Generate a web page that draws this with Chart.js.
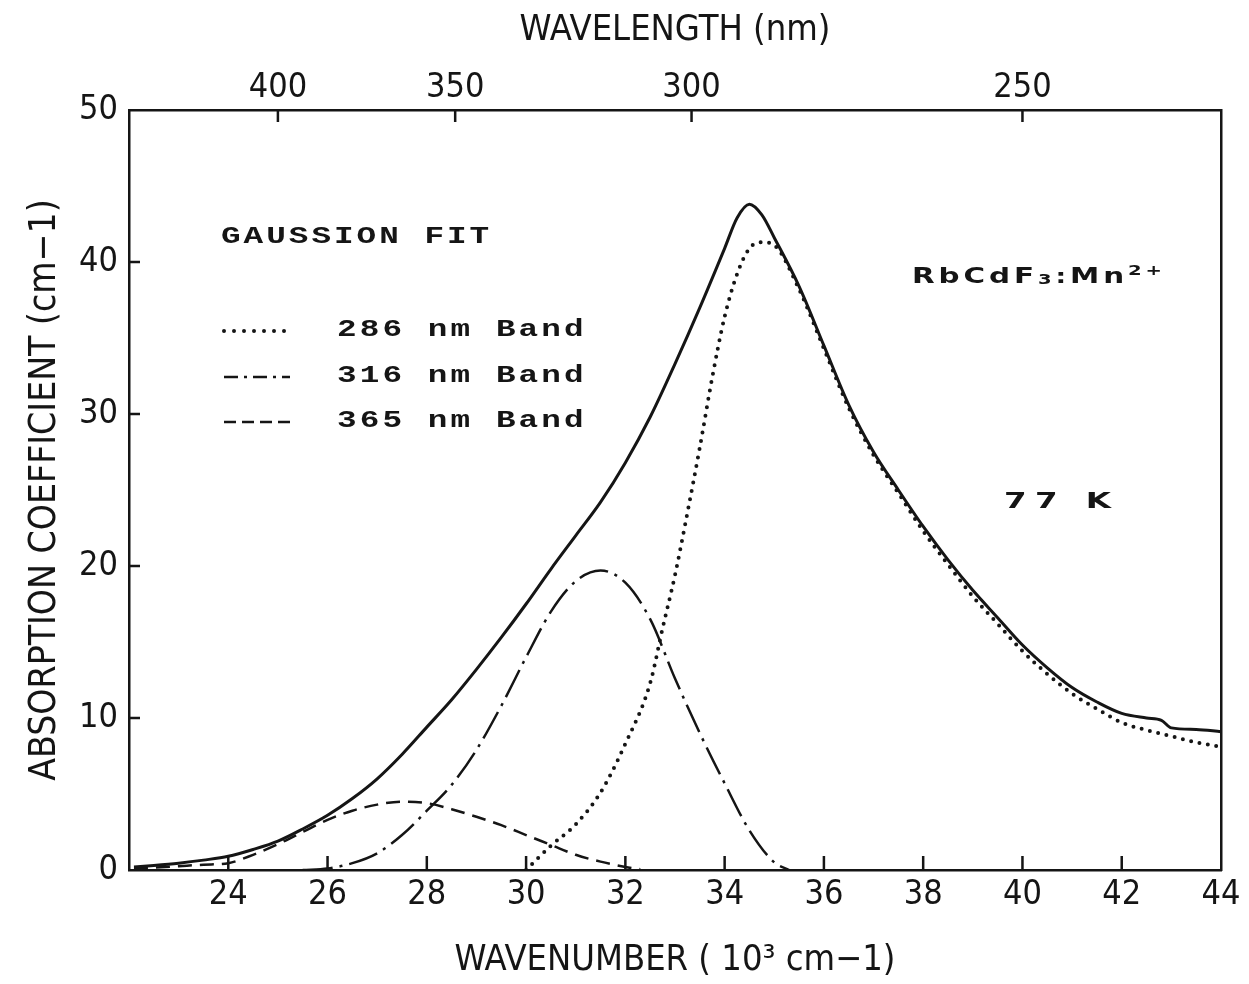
<!DOCTYPE html>
<html>
<head>
<meta charset="utf-8">
<title>RbCdF3:Mn2+ absorption, 77 K</title>
<script src="https://cdn.jsdelivr.net/npm/chart.js@4.4.1/dist/chart.umd.min.js"></script>
<style>
  html, body { margin: 0; padding: 0; background: #fff; }
  canvas { display: block; }
</style>
</head>
<body>
<canvas id="absChart" width="1249" height="984"></canvas>
<script>
// measured absorption (solid line)
const wavenumberTotal = [22.1, 22.5, 23, 23.5, 24, 24.5, 25, 25.5, 26, 26.5, 27, 27.5, 28, 28.5, 29, 29.5, 30, 30.5, 31, 31.5, 32, 32.5, 33, 33.5, 34, 34.25, 34.5, 34.75, 35, 35.5, 36, 36.5, 37, 37.5, 38, 38.5, 39, 39.5, 40, 40.5, 41, 41.5, 42, 42.5, 42.8, 43.0, 43.5, 44];
const absTotal = [0.2, 0.3, 0.45, 0.65, 0.9, 1.35, 1.9, 2.7, 3.6, 4.7, 6.0, 7.6, 9.4, 11.2, 13.2, 15.3, 17.5, 19.8, 22.0, 24.2, 26.8, 29.8, 33.3, 37.0, 40.9, 42.9, 43.8, 43.1, 41.6, 38.4, 34.5, 30.6, 27.5, 25.0, 22.6, 20.4, 18.4, 16.6, 14.8, 13.3, 12.0, 11.05, 10.3, 10.0, 9.85, 9.35, 9.25, 9.1];

// gaussian fit bands
const bandLabels = ['286 nm Band', '316 nm Band', '365 nm Band'];

const wavenumber286 = [30.0, 30.5, 31, 31.5, 32, 32.5, 32.75, 33, 33.25, 33.5, 33.75, 34, 34.25, 34.5, 34.75, 35, 35.5, 36, 36.5, 37, 37.5, 38, 38.5, 39, 39.5, 40, 40.5, 41, 41.5, 42, 42.5, 43, 43.5, 44];
const abs286 = [0, 1.6, 3.0, 5.1, 8.3, 12.3, 15.9, 19.4, 23.5, 27.8, 32.4, 36.4, 39.2, 40.9, 41.3, 41.1, 38.2, 34.3, 30.4, 27.3, 24.8, 22.3, 20.1, 18.0, 16.2, 14.4, 12.9, 11.6, 10.6, 9.7, 9.2, 8.8, 8.4, 8.1];

const wavenumber316 = [25.5, 26, 26.5, 27, 27.5, 28, 28.5, 29, 29.5, 30, 30.5, 31, 31.5, 32, 32.5, 33, 33.5, 34, 34.5, 35, 35.3];
const abs316 = [0, 0.1, 0.45, 1.1, 2.3, 3.9, 5.6, 7.9, 10.8, 14.0, 17.0, 19.0, 19.7, 18.9, 16.5, 12.6, 9.0, 5.7, 2.6, 0.5, 0];

const wavenumber365 = [22.1, 22.5, 23, 23.5, 24, 24.5, 25, 25.5, 26, 26.5, 27, 27.5, 28, 28.5, 29, 29.5, 30, 30.5, 31, 31.5, 32, 32.3];
const abs365 = [0.1, 0.15, 0.25, 0.35, 0.45, 1.0, 1.7, 2.5, 3.3, 3.9, 4.3, 4.5, 4.4, 4.0, 3.5, 2.95, 2.3, 1.65, 1.0, 0.55, 0.2, 0.05];

// top axis, wavelength in nm
const wavelengthTicks = [400, 350, 300, 250];

const ink = '#151515';
const plotFont = '"DejaVu Sans Condensed", "Liberation Sans Narrow", "DejaVu Sans", sans-serif';

function toPoints(xs, ys) {
    return xs.map(function(x, i) { return { x: x, y: ys[i] }; });
}

// ticks pointing into the plot, like the old plotter frame
const inwardTicks = {
    id: 'inwardTicks',
    afterDraw(chart) {
        const ctx = chart.ctx;
        const area = chart.chartArea;
        const s = chart.scales;
        ctx.save();
        ctx.strokeStyle = ink;
        ctx.lineWidth = 2.5;
        ctx.beginPath();
        s.x.ticks.forEach(function(t) {
            if (t.value <= s.x.min || t.value >= s.x.max) return;
            const px = s.x.getPixelForValue(t.value);
            ctx.moveTo(px, area.bottom);
            ctx.lineTo(px, area.bottom - 14);
        });
        s.x2.ticks.forEach(function(t) {
            const px = s.x2.getPixelForValue(t.value);
            ctx.moveTo(px, area.top);
            ctx.lineTo(px, area.top + 12);
        });
        s.y.ticks.forEach(function(t) {
            if (t.value <= s.y.min || t.value >= s.y.max) return;
            const py = s.y.getPixelForValue(t.value);
            ctx.moveTo(area.left, py);
            ctx.lineTo(area.left + 11, py);
        });
        ctx.stroke();
        ctx.restore();
    }
};

// monospaced text at a fixed pitch, glyphs stretched a bit wider
function pitchText(ctx, str, x, y, pitch, stretch) {
    for (let i = 0; i < str.length; i++) {
        ctx.save();
        ctx.translate(x + i * pitch, y);
        ctx.scale(stretch, 1);
        ctx.fillText(str[i], 0, 0);
        ctx.restore();
    }
}

// runs of chars spread between x0 and x1
function spreadRuns(ctx, runs, x0, x1, y, family, stretch) {
    const chars = [];
    runs.forEach(function(r) {
        for (const ch of r.t) chars.push({ ch: ch, size: r.size, dy: r.dy || 0 });
    });
    let total = 0;
    chars.forEach(function(c) {
        ctx.font = 'bold ' + c.size + 'px ' + family;
        c.w = ctx.measureText(c.ch).width * stretch;
        total += c.w;
    });
    const gap = (x1 - x0 - total) / (chars.length - 1);
    let x = x0;
    chars.forEach(function(c) {
        ctx.font = 'bold ' + c.size + 'px ' + family;
        ctx.save();
        ctx.translate(x, y + c.dy);
        ctx.scale(stretch, 1);
        ctx.fillText(c.ch, 0, 0);
        ctx.restore();
        x += c.w + gap;
    });
}

const annotations = {
    id: 'annotations',
    afterDraw(chart) {
        const ctx = chart.ctx;
        ctx.save();
        ctx.fillStyle = ink;
        ctx.textAlign = 'left';
        ctx.textBaseline = 'middle';
        ctx.font = 'bold 23px "Liberation Mono", "DejaVu Sans Mono", monospace';
        pitchText(ctx, 'GAUSSION FIT', 221, 237, 22.6, 1.42);

        const rowY = [330, 376, 421];
        bandLabels.forEach(function(label, i) {
            const ds = chart.data.datasets[i + 1];
            ctx.save();
            ctx.strokeStyle = ds.borderColor;
            ctx.lineWidth = ds.borderWidth;
            ctx.lineCap = ds.borderCapStyle || 'butt';
            ctx.setLineDash(ds.legendDash || ds.borderDash || []);
            ctx.beginPath();
            ctx.moveTo(224, rowY[i] + 1);
            ctx.lineTo(290, rowY[i] + 1);
            ctx.stroke();
            ctx.restore();
            pitchText(ctx, label, 337, rowY[i], 22.7, 1.42);
        });

        ctx.textBaseline = 'alphabetic';
        const sans = '"DejaVu Sans", "Liberation Sans", sans-serif';
        spreadRuns(ctx, [
            { t: 'RbCdF', size: 21 },
            { t: '3', size: 14, dy: 1 },
            { t: ':', size: 19 },
            { t: 'Mn', size: 21 },
            { t: '2+', size: 14, dy: -8 }
        ], 912, 1162, 283, sans, 1.4);
        spreadRuns(ctx, [{ t: '77 K', size: 21 }], 1004, 1111, 508, sans, 1.55);
        ctx.restore();
    }
};

const tickFont = { family: plotFont, size: 34 };
const titleFont = { family: plotFont, size: 36 };

new Chart(document.getElementById('absChart'), {
    type: 'line',
    data: {
        datasets: [
            {
                label: 'Measured',
                data: toPoints(wavenumberTotal, absTotal),
                borderColor: ink,
                borderWidth: 3,
                pointRadius: 0,
                cubicInterpolationMode: 'monotone'
            },
            {
                label: bandLabels[0],
                data: toPoints(wavenumber286, abs286),
                borderColor: ink,
                borderWidth: 4,
                borderDash: [0, 8.5],
                legendDash: [0, 10],
                borderCapStyle: 'round',
                pointRadius: 0,
                cubicInterpolationMode: 'monotone'
            },
            {
                label: bandLabels[1],
                data: toPoints(wavenumber316, abs316),
                borderColor: ink,
                borderWidth: 2.5,
                borderDash: [30, 7, 3, 7],
                legendDash: [14, 6, 3, 6],
                pointRadius: 0,
                cubicInterpolationMode: 'monotone'
            },
            {
                label: bandLabels[2],
                data: toPoints(wavenumber365, abs365),
                borderColor: ink,
                borderWidth: 2.5,
                borderDash: [14, 8],
                legendDash: [12, 6],
                pointRadius: 0,
                cubicInterpolationMode: 'monotone'
            }
        ]
    },
    options: {
        responsive: false,
        animation: false,
        layout: { padding: 0 },
        plugins: {
            legend: { display: false },
            tooltip: { enabled: false }
        },
        scales: {
            x: {
                type: 'linear',
                position: 'bottom',
                min: 22,
                max: 44,
                afterFit: function(s) { s.height = 114; },
                grid: { drawOnChartArea: false, drawTicks: false },
                border: { display: true, color: ink, width: 2.5 },
                ticks: {
                    stepSize: 2,
                    padding: 5,
                    color: ink,
                    font: tickFont,
                    maxRotation: 0,
                    autoSkip: false,
                    callback: function(v) { return v === 22 ? '' : v; }
                },
                title: {
                    display: true,
                    text: 'WAVENUMBER ( 10³ cm−1)',
                    color: ink,
                    font: titleFont,
                    padding: { top: 0, bottom: 2 }
                }
            },
            x2: {
                type: 'linear',
                position: 'top',
                min: 22,
                max: 44,
                afterBuildTicks: function(s) {
                    s.ticks = wavelengthTicks.map(function(nm) { return { value: 1e4 / nm }; });
                },
                afterFit: function(s) { s.height = 110; },
                grid: { drawOnChartArea: false, drawTicks: false },
                border: { display: true, color: ink, width: 2.5 },
                ticks: {
                    padding: 1,
                    color: ink,
                    font: tickFont,
                    maxRotation: 0,
                    autoSkip: false,
                    callback: function(v) { return Math.round(1e4 / v); }
                },
                title: {
                    display: true,
                    text: 'WAVELENGTH (nm)',
                    color: ink,
                    font: titleFont,
                    padding: { top: 9, bottom: 0 }
                }
            },
            y: {
                type: 'linear',
                position: 'left',
                min: 0,
                max: 50,
                afterFit: function(s) { s.width = 129; },
                grid: { drawOnChartArea: false, drawTicks: false },
                border: { display: true, color: ink, width: 2.5 },
                ticks: { stepSize: 10, padding: 11, color: ink, font: tickFont },
                title: {
                    display: true,
                    text: 'ABSORPTION COEFFICIENT (cm−1)',
                    color: ink,
                    font: { family: plotFont, size: 37 },
                    padding: { top: 23, bottom: 0 }
                }
            },
            y2: {
                type: 'linear',
                position: 'right',
                min: 0,
                max: 50,
                afterFit: function(s) { s.width = 28; },
                grid: { drawOnChartArea: false, drawTicks: false },
                border: { display: true, color: ink, width: 2.5 },
                ticks: { display: false }
            }
        }
    },
    plugins: [inwardTicks, annotations]
});
</script>
</body>
</html>
